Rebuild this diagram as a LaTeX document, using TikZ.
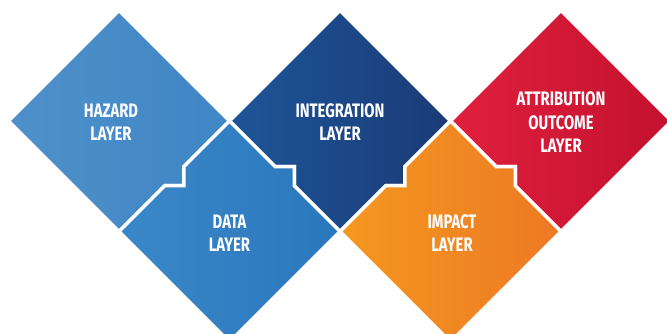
\documentclass[tikz,border=0pt]{standalone}
\usepackage{fontspec}
\newfontfamily\layerfont{Fira Sans}[FakeStretch=0.76]
\usepackage{tikz}
\usetikzlibrary{positioning}

\definecolor{hazardL}{HTML}{4E90CB}
\definecolor{hazardR}{HTML}{3F86C4}
\definecolor{dataL}{HTML}{3A87C9}
\definecolor{dataR}{HTML}{2B77BC}
\definecolor{integL}{HTML}{1D5598}
\definecolor{integR}{HTML}{1B3B76}
\definecolor{impactL}{HTML}{F4981F}
\definecolor{impactR}{HTML}{ED7925}
\definecolor{attribL}{HTML}{DF203D}
\definecolor{attribR}{HTML}{C3112F}

\begin{document}
\begin{tikzpicture}[x=1pt, y=-1pt,
	tile/.style={draw=white, line width=3.5pt, line join=miter},
	label/.style={text=white, align=center, inner sep=0pt,
		font=\layerfont\bfseries\fontsize{19.5}{23.5}\selectfont}]
	\useasboundingbox (0,0) rectangle (667,334);
	\clip (0,0) rectangle (667,334);

	% top row
	\shadedraw[tile, left color=hazardL, right color=hazardR]
		(8.5,121) -- (119,10.5) -- (229.5,121) -- (183.75,166.75) -- (183.75,185.75)
		-- (164.75,185.75) -- (119,231.5) -- cycle;
	\shadedraw[tile, left color=integL, right color=integR]
		(229.5,121) -- (340,10.5) -- (450.5,121) -- (404.75,166.75) -- (404.75,185.75)
		-- (385.75,185.75) -- (340,231.5) -- (294.25,185.75) -- (294.25,166.75)
		-- (275.25,166.75) -- cycle;
	\shadedraw[tile, left color=attribL, right color=attribR]
		(450.5,121) -- (561,10.5) -- (671.5,121) -- (561,231.5) -- (515.25,185.75)
		-- (515.25,166.75) -- (496.25,166.75) -- cycle;

	% bottom row
	\shadedraw[tile, left color=dataL, right color=dataR]
		(119,231.5) -- (164.75,185.75) -- (183.75,185.75) -- (183.75,166.75)
		-- (229.5,121) -- (275.25,166.75) -- (294.25,166.75) -- (294.25,185.75)
		-- (340,231.5) -- (229.5,342) -- cycle;
	\shadedraw[tile, left color=impactL, right color=impactR]
		(340,231.5) -- (385.75,185.75) -- (404.75,185.75) -- (404.75,166.75)
		-- (450.5,121) -- (496.25,166.75) -- (515.25,166.75) -- (515.25,185.75)
		-- (561,231.5) -- (450.5,342) -- cycle;

	\node[label] (hazard) at (111,122)   {HAZARD\\LAYER};
	\node[label] (integ)  at (340,122)   {INTEGRATION\\LAYER};
	\node[label] (attrib) at (561,122.5) {ATTRIBUTION\\OUTCOME\\LAYER};
	\node[label] (data)   at (229.5,233) {DATA\\LAYER};
	\node[label] (impact) at (452,233)   {IMPACT\\LAYER};
\end{tikzpicture}
\end{document}
